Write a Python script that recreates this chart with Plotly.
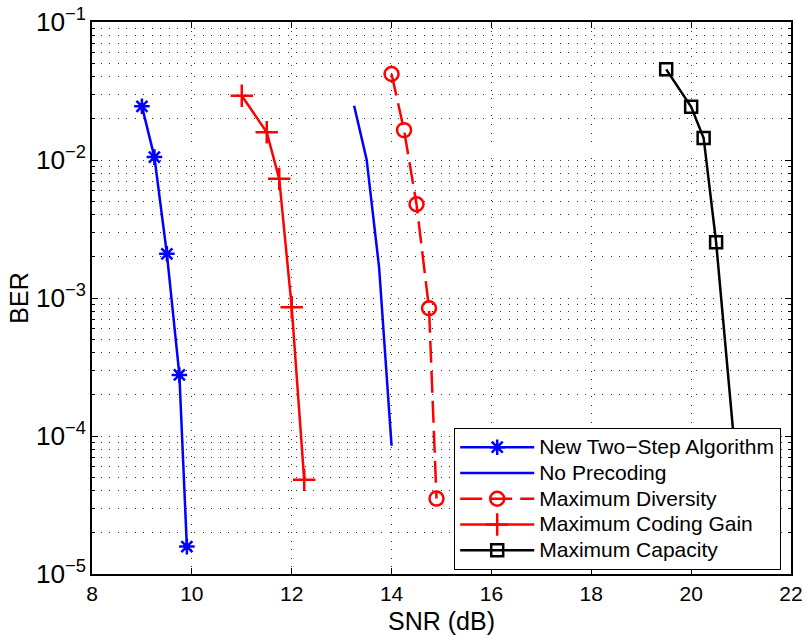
import plotly.graph_objects as go

# Data
snr_two_step = [9.0, 9.25, 9.5, 9.75, 9.9]
ber_two_step = [0.0245, 0.0105, 0.00209, 2.77e-4, 1.58e-5]

snr_no_prec = [13.25, 13.5, 13.75, 14.0]
ber_no_prec = [0.0247, 0.0101, 0.00167, 8.5e-5]

snr_max_div = [14.0, 14.25, 14.5, 14.75, 14.9]
ber_max_div = [0.042, 0.01645, 0.00478, 8.43e-4, 3.52e-5]

snr_max_cg = [11.0, 11.5, 11.75, 12.0, 12.25]
ber_max_cg = [0.0292, 0.0159, 0.0073, 8.57e-4, 4.81e-5]

snr_max_cap = [19.5, 20.0, 20.25, 20.5, 21.0]
ber_max_cap = [0.0454, 0.0243, 0.01445, 0.00254, 2.5e-5]

x_ticks = [8, 10, 12, 14, 16, 18, 20, 22]

FONT = "Liberation Sans, Arial, Helvetica, sans-serif"
LW = 2.5


def legend_name(s):
    return '<span style="font-size:21px">' + s + "</span>"


fig = go.Figure()
fig.add_trace(go.Scatter(
    x=snr_two_step, y=ber_two_step, mode="lines+markers",
    name=legend_name("New Two\u2212Step Algorithm"),
    line=dict(color="#0000ff", width=LW),
    marker=dict(symbol="asterisk-open", size=13, color="#0000ff",
                line=dict(color="#0000ff", width=2.5)),
))
fig.add_trace(go.Scatter(
    x=snr_no_prec, y=ber_no_prec, mode="lines",
    name=legend_name("No Precoding"),
    line=dict(color="#0000ff", width=LW),
))
fig.add_trace(go.Scatter(
    x=snr_max_div, y=ber_max_div, mode="lines+markers",
    name=legend_name("Maximum Diversity"),
    line=dict(color="#ff0000", width=LW, dash="22px,8px"),
    marker=dict(symbol="circle-open", size=14, color="#ff0000",
                line=dict(color="#ff0000", width=2.5)),
))
fig.add_trace(go.Scatter(
    x=snr_max_cg, y=ber_max_cg, mode="lines+markers",
    name=legend_name("Maximum Coding Gain"),
    line=dict(color="#ff0000", width=LW),
    marker=dict(symbol="cross-thin-open", size=16, color="#ff0000",
                line=dict(color="#ff0000", width=2.5)),
))
fig.add_trace(go.Scatter(
    x=snr_max_cap, y=ber_max_cap, mode="lines+markers",
    name=legend_name("Maximum Capacity"),
    line=dict(color="#000000", width=LW),
    marker=dict(symbol="square-open", size=12, color="#000000",
                line=dict(color="#000000", width=2.5)),
))

grid_kw = dict(gridcolor="#333333", gridwidth=1, griddash="1px,7.5px")

fig.update_layout(
    width=806, height=635,
    paper_bgcolor="white", plot_bgcolor="white",
    margin=dict(l=92, r=15, t=22, b=61),
    font=dict(family=FONT, size=21, color="#000000"),
    showlegend=True,
    legend=dict(
        x=0.9857, y=0.007, xanchor="right", yanchor="bottom",
        bgcolor="white", bordercolor="#000000", borderwidth=1.2,
        font=dict(family=FONT, size=17.5, color="#000000"),
        itemwidth=74, tracegroupgap=0,
    ),
    xaxis=dict(
        range=[8, 22], tickvals=x_ticks, ticktext=[str(v) for v in x_ticks],
        automargin=False,
        showline=True, linecolor="#000000", linewidth=1.5, mirror="ticks",
        ticks="inside", ticklen=6, tickcolor="#000000", tickwidth=1,
        showgrid=True, zeroline=False,
        title=dict(text="SNR (dB)", standoff=9),
        **grid_kw,
    ),
    yaxis=dict(
        type="log", range=[-5, -1], dtick=1, exponentformat="power",
        automargin=False,
        showline=True, linecolor="#000000", linewidth=1.5, mirror="ticks",
        ticks="inside", ticklen=6, tickcolor="#000000", tickwidth=1,
        showgrid=True, zeroline=False,
        title=dict(text="BER", standoff=0),
        minor=dict(ticks="inside", ticklen=3, tickcolor="#000000",
                   showgrid=True, **grid_kw),
        **grid_kw,
    ),
)

fig.write_html("out.html", config={"displayModeBar": False},
               post_script="document.body.style.margin='0px';")
